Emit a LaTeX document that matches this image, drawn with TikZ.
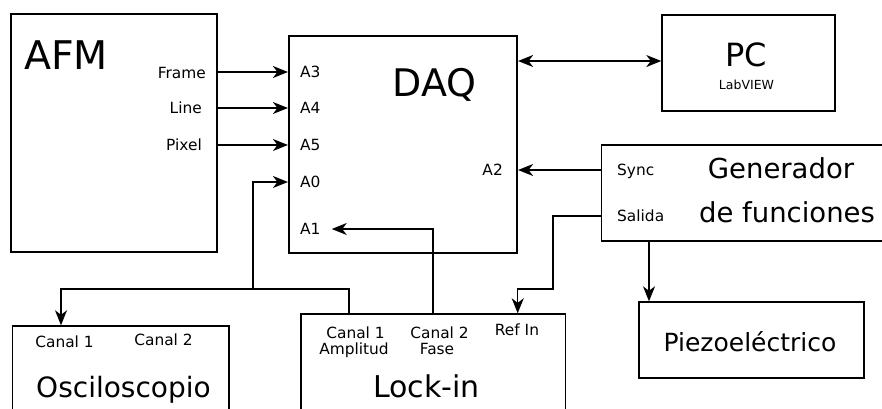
\documentclass[tikz,border=0pt]{standalone}
\usepackage{fontspec}
\setmainfont{DejaVu Sans}
\usetikzlibrary{arrows.meta}
\begin{document}
\begin{tikzpicture}[x=1pt,y=-1pt,
  >={Stealth[length=15pt,width=12pt,inset=4.5pt]},
  box/.style={draw, line width=1.4pt, inner sep=0pt},
  wire/.style={line width=1.2pt},
  port/.style={inner sep=0pt, font=\fontsize{15.4}{18}\selectfont, text height=11.2pt, text depth=0pt},
  big/.style n args={2}{inner sep=0pt, font=\fontsize{#1}{#1}\selectfont, text height=#2, text depth=0pt}]
\useasboundingbox (0,0) rectangle (882,408);
% boxes
\node[box, minimum width=206pt, minimum height=238pt] (afm) at (114,133) {};
\node[box, line width=2.2pt, minimum width=228pt, minimum height=217pt] (daq) at (403,144.5) {};
\node[box, minimum width=173pt, minimum height=96pt] (pc) at (748.5,63) {};
\node[box, minimum width=290.5pt, minimum height=96pt] (gen) at (746.75,193) {};
\node[box, minimum width=225pt, minimum height=76pt] (piezo) at (751.5,340) {};
\node[box, minimum width=216.3pt, minimum height=94pt] (osc) at (120.85,373) {};
\node[box, minimum width=264.7pt, minimum height=106pt] (lockin) at (433.35,367) {};
% titles
\node[big={39.5}{28.8pt}] (afmname) at (66,55) {AFM};
\node[big={38}{27.7pt}] (daqname) at (434.5,83) {DAQ};
\node[big={32}{23.4pt}] (pcname) at (746,55) {PC};
\node[big={12.5}{9.1pt}] (labview) at (746.5,85) {LabVIEW};
\node[big={27.5}{20pt}] (genname) at (781,168) {Generador};
\node[big={27.5}{20pt}] (genname2) at (787,212) {de funciones};
\node[big={25}{18.2pt}] (piezoname) at (750,342) {Piezoeléctrico};
\node[big={28}{20.4pt}] (oscname) at (123.5,387) {Osciloscopio};
\node[big={30}{21.9pt}] (lockinname) at (426.5,387) {Lock-in};
% ports
\node[port, anchor=east] (frame) at (206,72.5) {Frame};
\node[port, anchor=east] (line) at (202,108) {Line};
\node[port, anchor=east] (pixel) at (202,145) {Pixel};
\node[port, anchor=west] (a3) at (300,72) {A3};
\node[port, anchor=west] (a4) at (300,108) {A4};
\node[port, anchor=west] (a5) at (300,145) {A5};
\node[port, anchor=west] (a0) at (300,182) {A0};
\node[port, anchor=west] (a1) at (300,229) {A1};
\node[port, anchor=east] (a2) at (503,170) {A2};
\node[port, anchor=west] (sync) at (617,170) {Sync};
\node[port, anchor=west] (salida) at (617,216) {Salida};
\node[port] (osc1) at (64.5,342) {Canal 1};
\node[port] (osc2) at (163.5,340) {Canal 2};
\node[port] (lk1) at (355.5,333) {Canal 1};
\node[port] (amp) at (354,349) {Amplitud};
\node[port] (lk2) at (439.5,333) {Canal 2};
\node[port] (fase) at (437,349) {Fase};
\node[port] (refin) at (517,330) {Ref In};
% corner points
\coordinate (pcin) at ([yshift=2pt]pc.west);
\coordinate (split) at (253,289);
\coordinate (lkup) at (349,289);
\coordinate (oscdown) at (61,289);
\coordinate (faseup) at (433,229);
\coordinate (salout) at (553,289);
\coordinate (refdown) at (517.7,289);
\coordinate (pzdown) at (649,0);
% connectors
\draw[wire,->] (afm.east |- a3) -- (daq.west |- a3);
\draw[wire,->] (afm.east |- a4) -- (daq.west |- a4);
\draw[wire,->] (afm.east |- a5) -- (daq.west |- a5);
\draw[wire,<->] (daq.east |- pcin) -- (pcin);
\draw[wire,->] (gen.west |- sync) -- (daq.east |- sync);
\draw[wire,->] (lockin.north -| lkup) -- (lkup) -- (oscdown) -- (osc.north -| oscdown);
\draw[wire,->] (split) -- (split |- a0) -- (daq.west |- a0);
\draw[wire,->] (lockin.north -| faseup) -- (faseup) -- ([xshift=11pt]a1.east);
\draw[wire,->] (gen.west |- salida) -- (salout |- salida) -- (salout) -- (refdown) -- (lockin.north -| refdown);
\draw[wire,->] (gen.south -| pzdown) -- (piezo.north -| pzdown);
\end{tikzpicture}
\end{document}
